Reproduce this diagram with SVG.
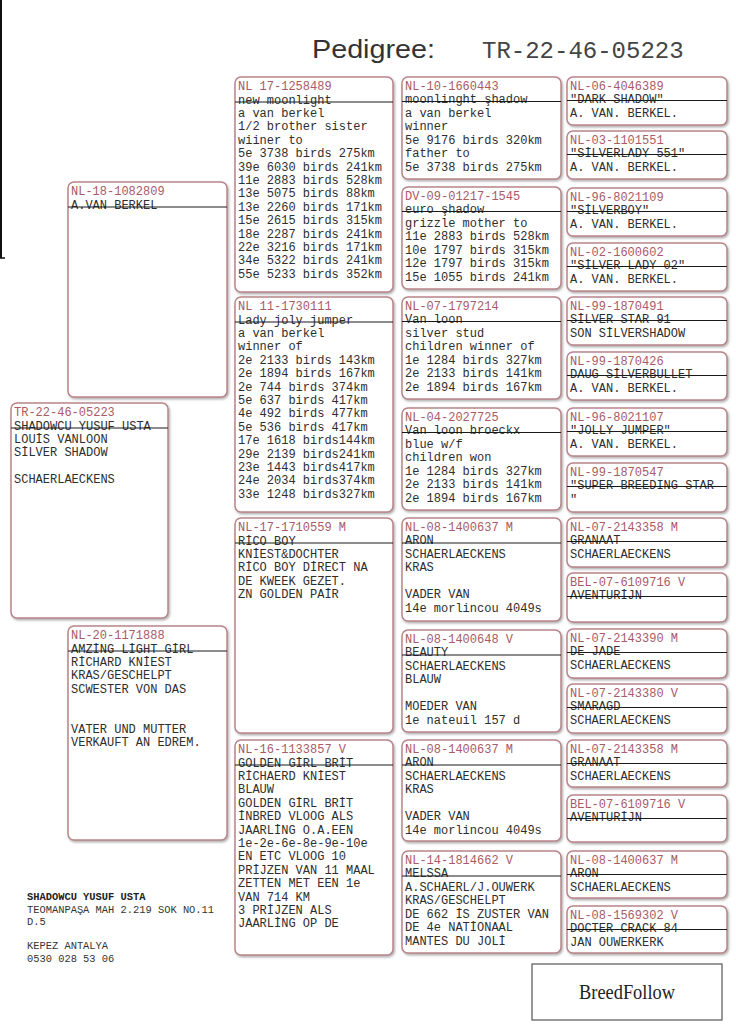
<svg xmlns="http://www.w3.org/2000/svg" width="736" height="1036" viewBox="0 0 736 1036">
<defs>
<filter id="sh" x="-5%" y="-5%" width="115%" height="115%">
<feDropShadow dx="1.2" dy="1.6" stdDeviation="0.9" flood-color="#6a6a6a" flood-opacity="0.55"/>
</filter>
<style>
.box{fill:#fff;stroke:#b9858b;stroke-width:1.5;filter:url(#sh)}
.dv{stroke:#1a1a1a;stroke-width:1.1}
.id{font-family:"Liberation Mono","DejaVu Sans Mono",monospace;font-size:12px;fill:#a85a66}
.tx{font-family:"Liberation Mono","DejaVu Sans Mono",monospace;font-size:12px;fill:#2e2e2e}
.ad{font-family:"Liberation Mono","DejaVu Sans Mono",monospace;font-size:10.4px;fill:#333}
</style>
</defs>
<rect width="736" height="1036" fill="#fff"/>
<line x1="1" y1="0" x2="1" y2="258" stroke="#111" stroke-width="2"/>
<line x1="0" y1="258" x2="5" y2="258" stroke="#111" stroke-width="1.5"/>

<g id="header">
<text x="312" y="58" font-family="Liberation Sans, Arial, sans-serif" font-size="26" fill="#333" textLength="123" lengthAdjust="spacingAndGlyphs">Pedigree:</text>
<text x="482" y="58" font-family="Liberation Mono, monospace" font-size="24" fill="#444">TR-22-46-05223</text>
</g>

<g id="connectors"></g>

<!-- Column 0 -->
<g id="n-subject" transform="translate(11,403)">
<rect class="box" width="157" height="215" rx="6"/>
<text class="id" x="3" y="13">TR-22-46-05223</text>
<text class="tx"><tspan x="3" y="26.5">SHADOWCU YUSUF USTA</tspan><tspan x="3" dy="13.4">LOUİS VANLOON</tspan><tspan x="3" dy="13.4">SİLVER SHADOW</tspan><tspan x="3" dy="26.8">SCHAERLAECKENS</tspan></text>
<line class="dv" x1="0" y1="25" x2="157" y2="25"/>
</g>

<!-- Column 1 -->
<g id="n-sire" transform="translate(68,182)">
<rect class="box" width="159" height="215" rx="6"/>
<text class="id" x="3" y="13">NL-18-1082809</text>
<text class="tx" x="3" y="26.5">A.VAN BERKEL</text>
<line class="dv" x1="0" y1="25" x2="159" y2="25"/>
</g>
<g id="n-dam" transform="translate(68,626)">
<rect class="box" width="159" height="214" rx="6"/>
<text class="id" x="3" y="13">NL-20-1171888</text>
<text class="tx"><tspan x="3" y="26.5">AMZİNG LİGHT GİRL</tspan><tspan x="3" dy="13.4">RİCHARD KNİEST</tspan><tspan x="3" dy="13.4">KRAS/GESCHELPT</tspan><tspan x="3" dy="13.4">SCWESTER VON DAS</tspan><tspan x="3" dy="40.2">VATER UND MUTTER</tspan><tspan x="3" dy="13.4">VERKAUFT AN EDREM.</tspan></text>
<line class="dv" x1="0" y1="25" x2="159" y2="25"/>
</g>

<!-- Column 2 -->
<g id="n-ss" transform="translate(235,77)">
<rect class="box" width="158" height="215" rx="6"/>
<text class="id" x="3" y="13">NL 17-1258489</text>
<text class="tx"><tspan x="3" y="26.5">new moonlight</tspan><tspan x="3" dy="13.4">a van berkel</tspan><tspan x="3" dy="13.4">1/2 brother sister</tspan><tspan x="3" dy="13.4">wiiner to</tspan><tspan x="3" dy="13.4">5e 3738 birds 275km</tspan><tspan x="3" dy="13.4">39e 6030 birds 241km</tspan><tspan x="3" dy="13.4">11e 2883 birds 528km</tspan><tspan x="3" dy="13.4">13e 5075 birds 88km</tspan><tspan x="3" dy="13.4">13e 2260 birds 171km</tspan><tspan x="3" dy="13.4">15e 2615 birds 315km</tspan><tspan x="3" dy="13.4">18e 2287 birds 241km</tspan><tspan x="3" dy="13.4">22e 3216 birds 171km</tspan><tspan x="3" dy="13.4">34e 5322 birds 241km</tspan><tspan x="3" dy="13.4">55e 5233 birds 352km</tspan></text>
<line class="dv" x1="0" y1="25" x2="158" y2="25"/>
</g>
<g id="n-sd" transform="translate(235,297)">
<rect class="box" width="158" height="215" rx="6"/>
<text class="id" x="3" y="13">NL 11-1730111</text>
<text class="tx"><tspan x="3" y="26.5">Lady joly jumper</tspan><tspan x="3" dy="13.4">a van berkel</tspan><tspan x="3" dy="13.4">winner of</tspan><tspan x="3" dy="13.4">2e 2133 birds 143km</tspan><tspan x="3" dy="13.4">2e 1894 birds 167km</tspan><tspan x="3" dy="13.4">2e 744 birds 374km</tspan><tspan x="3" dy="13.4">5e 637 birds 417km</tspan><tspan x="3" dy="13.4">4e 492 birds 477km</tspan><tspan x="3" dy="13.4">5e 536 birds 417km</tspan><tspan x="3" dy="13.4">17e 1618 birds144km</tspan><tspan x="3" dy="13.4">29e 2139 birds241km</tspan><tspan x="3" dy="13.4">23e 1443 birds417km</tspan><tspan x="3" dy="13.4">24e 2034 birds374km</tspan><tspan x="3" dy="13.4">33e 1248 birds327km</tspan></text>
<line class="dv" x1="0" y1="25" x2="158" y2="25"/>
</g>
<g id="n-ds" transform="translate(235,518)">
<rect class="box" width="158" height="215" rx="6"/>
<text class="id" x="3" y="13">NL-17-1710559 M</text>
<text class="tx"><tspan x="3" y="26.5">RİCO BOY</tspan><tspan x="3" dy="13.4">KNİEST&amp;DOCHTER</tspan><tspan x="3" dy="13.4">RİCO BOY DİRECT NA</tspan><tspan x="3" dy="13.4">DE KWEEK GEZET.</tspan><tspan x="3" dy="13.4">ZN GOLDEN PAİR</tspan></text>
<line class="dv" x1="0" y1="25" x2="158" y2="25"/>
</g>
<g id="n-dd" transform="translate(235,740)">
<rect class="box" width="158" height="215" rx="6"/>
<text class="id" x="3" y="13">NL-16-1133857 V</text>
<text class="tx"><tspan x="3" y="26.5">GOLDEN GİRL BRİT</tspan><tspan x="3" dy="13.4">RİCHAERD KNİEST</tspan><tspan x="3" dy="13.4">BLAUW</tspan><tspan x="3" dy="13.4">GOLDEN GİRL BRİT</tspan><tspan x="3" dy="13.4">İNBRED VLOOG ALS</tspan><tspan x="3" dy="13.4">JAARLİNG O.A.EEN</tspan><tspan x="3" dy="13.4">1e-2e-6e-8e-9e-10e</tspan><tspan x="3" dy="13.4">EN ETC VLOOG 10</tspan><tspan x="3" dy="13.4">PRİJZEN VAN 11 MAAL</tspan><tspan x="3" dy="13.4">ZETTEN MET EEN 1e</tspan><tspan x="3" dy="13.4">VAN 714 KM</tspan><tspan x="3" dy="13.4">3 PRİJZEN ALS</tspan><tspan x="3" dy="13.4">JAARLİNG OP DE</tspan></text>
<line class="dv" x1="0" y1="25" x2="158" y2="25"/>
</g>

<!-- Column 3 -->
<g id="n-sss" transform="translate(402,77)">
<rect class="box" width="159" height="102" rx="6"/>
<text class="id" x="3" y="12.5">NL-10-1660443</text>
<text class="tx"><tspan x="3" y="26">moonlinght şhadow</tspan><tspan x="3" dy="13.5">a van berkel</tspan><tspan x="3" dy="13.5">winner</tspan><tspan x="3" dy="13.5">5e 9176 birds 320km</tspan><tspan x="3" dy="13.5">father to</tspan><tspan x="3" dy="13.5">5e 3738 birds 275km</tspan></text>
<line class="dv" x1="0" y1="24.5" x2="159" y2="24.5"/>
</g>
<g id="n-ssd" transform="translate(402,187)">
<rect class="box" width="159" height="102" rx="6"/>
<text class="id" x="3" y="12.5">DV-09-01217-1545</text>
<text class="tx"><tspan x="3" y="26">euro şhadow</tspan><tspan x="3" dy="13.5">grizzle mother to</tspan><tspan x="3" dy="13.5">11e 2883 birds 528km</tspan><tspan x="3" dy="13.5">10e 1797 birds 315km</tspan><tspan x="3" dy="13.5">12e 1797 birds 315km</tspan><tspan x="3" dy="13.5">15e 1055 birds 241km</tspan></text>
<line class="dv" x1="0" y1="24.5" x2="159" y2="24.5"/>
</g>
<g id="n-sds" transform="translate(402,297)">
<rect class="box" width="159" height="102" rx="6"/>
<text class="id" x="3" y="12.5">NL-07-1797214</text>
<text class="tx"><tspan x="3" y="26">Van loon</tspan><tspan x="3" dy="13.5">silver stud</tspan><tspan x="3" dy="13.5">children winner of</tspan><tspan x="3" dy="13.5">1e 1284 birds 327km</tspan><tspan x="3" dy="13.5">2e 2133 birds 141km</tspan><tspan x="3" dy="13.5">2e 1894 birds 167km</tspan></text>
<line class="dv" x1="0" y1="24.5" x2="159" y2="24.5"/>
</g>
<g id="n-sdd" transform="translate(402,408)">
<rect class="box" width="159" height="102" rx="6"/>
<text class="id" x="3" y="12.5">NL-04-2027725</text>
<text class="tx"><tspan x="3" y="26">Van loon broeckx</tspan><tspan x="3" dy="13.5">blue w/f</tspan><tspan x="3" dy="13.5">children won</tspan><tspan x="3" dy="13.5">1e 1284 birds 327km</tspan><tspan x="3" dy="13.5">2e 2133 birds 141km</tspan><tspan x="3" dy="13.5">2e 1894 birds 167km</tspan></text>
<line class="dv" x1="0" y1="24.5" x2="159" y2="24.5"/>
</g>
<g id="n-dss" transform="translate(402,518)">
<rect class="box" width="159" height="103" rx="6"/>
<text class="id" x="3" y="12.5">NL-08-1400637 M</text>
<text class="tx"><tspan x="3" y="26">ARON</tspan><tspan x="3" dy="13.5">SCHAERLAECKENS</tspan><tspan x="3" dy="13.5">KRAS</tspan><tspan x="3" dy="27">VADER VAN</tspan><tspan x="3" dy="13.5">14e morlincou 4049s</tspan></text>
<line class="dv" x1="0" y1="25" x2="159" y2="25"/>
</g>
<g id="n-dsd" transform="translate(402,630)">
<rect class="box" width="159" height="102" rx="6"/>
<text class="id" x="3" y="12.5">NL-08-1400648 V</text>
<text class="tx"><tspan x="3" y="26">BEAUTY</tspan><tspan x="3" dy="13.5">SCHAERLAECKENS</tspan><tspan x="3" dy="13.5">BLAUW</tspan><tspan x="3" dy="27">MOEDER VAN</tspan><tspan x="3" dy="13.5">1e nateuil 157 d</tspan></text>
<line class="dv" x1="0" y1="25" x2="159" y2="25"/>
</g>
<g id="n-dds" transform="translate(402,740)">
<rect class="box" width="159" height="101" rx="6"/>
<text class="id" x="3" y="12.5">NL-08-1400637 M</text>
<text class="tx"><tspan x="3" y="26">ARON</tspan><tspan x="3" dy="13.5">SCHAERLAECKENS</tspan><tspan x="3" dy="13.5">KRAS</tspan><tspan x="3" dy="27">VADER VAN</tspan><tspan x="3" dy="13.5">14e morlincou 4049s</tspan></text>
<line class="dv" x1="0" y1="25" x2="159" y2="25"/>
</g>
<g id="n-ddd" transform="translate(402,851)">
<rect class="box" width="159" height="102" rx="6"/>
<text class="id" x="3" y="12.5">NL-14-1814662 V</text>
<text class="tx"><tspan x="3" y="26">MELSSA</tspan><tspan x="3" dy="13.5">A.SCHAERL/J.OUWERK</tspan><tspan x="3" dy="13.5">KRAS/GESCHELPT</tspan><tspan x="3" dy="13.5">DE 662 İS ZUSTER VAN</tspan><tspan x="3" dy="13.5">DE 4e NATİONAAL</tspan><tspan x="3" dy="13.5">MANTES DU JOLİ</tspan></text>
<line class="dv" x1="0" y1="25" x2="159" y2="25"/>
</g>

<!-- Column 4 -->
<g id="n-c4-01" transform="translate(567,77)">
<rect class="box" width="160" height="48" rx="6"/>
<text class="id" x="3" y="12.5">NL-06-4046389</text>
<text class="tx"><tspan x="3" y="26">"DARK SHADOW"</tspan><tspan x="3" dy="14">A. VAN. BERKEL.</tspan></text>
<line class="dv" x1="0" y1="23.5" x2="160" y2="23.5"/>
</g>
<g id="n-c4-02" transform="translate(567,131)">
<rect class="box" width="160" height="48" rx="6"/>
<text class="id" x="3" y="12.5">NL-03-1101551</text>
<text class="tx"><tspan x="3" y="26">"SİLVERLADY 551"</tspan><tspan x="3" dy="14">A. VAN. BERKEL.</tspan></text>
<line class="dv" x1="0" y1="23.5" x2="160" y2="23.5"/>
</g>
<g id="n-c4-03" transform="translate(567,188)">
<rect class="box" width="160" height="48" rx="6"/>
<text class="id" x="3" y="12.5">NL-96-8021109</text>
<text class="tx"><tspan x="3" y="26">"SİLVERBOY"</tspan><tspan x="3" dy="14">A. VAN. BERKEL.</tspan></text>
<line class="dv" x1="0" y1="23.5" x2="160" y2="23.5"/>
</g>
<g id="n-c4-04" transform="translate(567,243)">
<rect class="box" width="160" height="48" rx="6"/>
<text class="id" x="3" y="12.5">NL-02-1600602</text>
<text class="tx"><tspan x="3" y="26">"SİLVER LADY 02"</tspan><tspan x="3" dy="14">A. VAN. BERKEL.</tspan></text>
<line class="dv" x1="0" y1="23.5" x2="160" y2="23.5"/>
</g>
<g id="n-c4-05" transform="translate(567,297)">
<rect class="box" width="160" height="48" rx="6"/>
<text class="id" x="3" y="12.5">NL-99-1870491</text>
<text class="tx"><tspan x="3" y="26">SİLVER STAR 91</tspan><tspan x="3" dy="14">SON SİLVERSHADOW</tspan></text>
<line class="dv" x1="0" y1="23.5" x2="160" y2="23.5"/>
</g>
<g id="n-c4-06" transform="translate(567,352)">
<rect class="box" width="160" height="48" rx="6"/>
<text class="id" x="3" y="12.5">NL-99-1870426</text>
<text class="tx"><tspan x="3" y="26">DAUG SİLVERBULLET</tspan><tspan x="3" dy="14">A. VAN. BERKEL.</tspan></text>
<line class="dv" x1="0" y1="23.5" x2="160" y2="23.5"/>
</g>
<g id="n-c4-07" transform="translate(567,408)">
<rect class="box" width="160" height="48" rx="6"/>
<text class="id" x="3" y="12.5">NL-96-8021107</text>
<text class="tx"><tspan x="3" y="26">"JOLLY JUMPER"</tspan><tspan x="3" dy="14">A. VAN. BERKEL.</tspan></text>
<line class="dv" x1="0" y1="23.5" x2="160" y2="23.5"/>
</g>
<g id="n-c4-08" transform="translate(567,463)">
<rect class="box" width="160" height="49" rx="6"/>
<text class="id" x="3" y="12.5">NL-99-1870547</text>
<text class="tx"><tspan x="3" y="26">"SUPER BREEDING STAR</tspan><tspan x="3" dy="14">"</tspan></text>
<line class="dv" x1="0" y1="23.5" x2="160" y2="23.5"/>
</g>
<g id="n-c4-09" transform="translate(567,518)">
<rect class="box" width="160" height="49" rx="6"/>
<text class="id" x="3" y="12.5">NL-07-2143358 M</text>
<text class="tx"><tspan x="3" y="26">GRANAAT</tspan><tspan x="3" dy="14">SCHAERLAECKENS</tspan></text>
<line class="dv" x1="0" y1="23.5" x2="160" y2="23.5"/>
</g>
<g id="n-c4-10" transform="translate(567,573)">
<rect class="box" width="160" height="49" rx="6"/>
<text class="id" x="3" y="12.5">BEL-07-6109716 V</text>
<text class="tx" x="3" y="26">AVENTURİJN</text>
<line class="dv" x1="0" y1="23.5" x2="160" y2="23.5"/>
</g>
<g id="n-c4-11" transform="translate(567,629)">
<rect class="box" width="160" height="49" rx="6"/>
<text class="id" x="3" y="12.5">NL-07-2143390 M</text>
<text class="tx"><tspan x="3" y="26">DE JADE</tspan><tspan x="3" dy="14">SCHAERLAECKENS</tspan></text>
<line class="dv" x1="0" y1="23.5" x2="160" y2="23.5"/>
</g>
<g id="n-c4-12" transform="translate(567,684)">
<rect class="box" width="160" height="49" rx="6"/>
<text class="id" x="3" y="12.5">NL-07-2143380 V</text>
<text class="tx"><tspan x="3" y="26">SMARAGD</tspan><tspan x="3" dy="14">SCHAERLAECKENS</tspan></text>
<line class="dv" x1="0" y1="23.5" x2="160" y2="23.5"/>
</g>
<g id="n-c4-13" transform="translate(567,740)">
<rect class="box" width="160" height="47" rx="6"/>
<text class="id" x="3" y="12.5">NL-07-2143358 M</text>
<text class="tx"><tspan x="3" y="26">GRANAAT</tspan><tspan x="3" dy="14">SCHAERLAECKENS</tspan></text>
<line class="dv" x1="0" y1="23.5" x2="160" y2="23.5"/>
</g>
<g id="n-c4-14" transform="translate(567,795)">
<rect class="box" width="160" height="47" rx="6"/>
<text class="id" x="3" y="12.5">BEL-07-6109716 V</text>
<text class="tx" x="3" y="26">AVENTURİJN</text>
<line class="dv" x1="0" y1="23.5" x2="160" y2="23.5"/>
</g>
<g id="n-c4-15" transform="translate(567,851)">
<rect class="box" width="160" height="47" rx="6"/>
<text class="id" x="3" y="12.5">NL-08-1400637 M</text>
<text class="tx"><tspan x="3" y="26">ARON</tspan><tspan x="3" dy="14">SCHAERLAECKENS</tspan></text>
<line class="dv" x1="0" y1="23.5" x2="160" y2="23.5"/>
</g>
<g id="n-c4-16" transform="translate(567,906)">
<rect class="box" width="160" height="47" rx="6"/>
<text class="id" x="3" y="12.5">NL-08-1569302 V</text>
<text class="tx"><tspan x="3" y="26">DOCTER CRACK 84</tspan><tspan x="3" dy="14">JAN OUWERKERK</tspan></text>
<line class="dv" x1="0" y1="23.5" x2="160" y2="23.5"/>
</g>

<g id="address">
<text class="ad"><tspan x="27" y="900" font-weight="bold" fill="#222">SHADOWCU YUSUF USTA</tspan><tspan x="27" y="912.5">TEOMANPAŞA MAH 2.219 SOK NO.11</tspan><tspan x="27" y="925">D.5</tspan><tspan x="27" y="949">KEPEZ ANTALYA</tspan><tspan x="27" y="962">0530 028 53 06</tspan></text>
</g>

<g id="breedfollow">
<rect x="532" y="964" width="190" height="56" fill="#fff" stroke="#555" stroke-width="1.2"/>
<text x="627" y="999" text-anchor="middle" font-family="Liberation Serif, serif" font-size="20" fill="#222" textLength="96" lengthAdjust="spacingAndGlyphs">BreedFollow</text>
</g>
</svg>
